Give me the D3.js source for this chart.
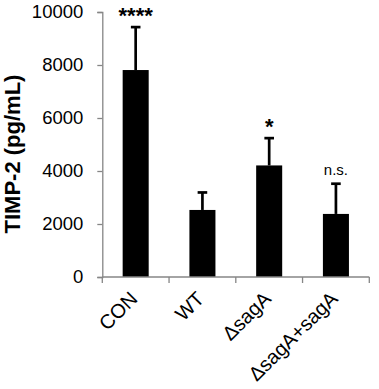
<!DOCTYPE html>
<html>
<head>
<meta charset="utf-8">
<script src="https://cdn.jsdelivr.net/npm/d3@7"></script>
<style>
  html, body { margin: 0; padding: 0; background: #fff; }
  svg { display: block; font-family: Arial, "Liberation Sans", sans-serif; }
</style>
</head>
<body>
<svg id="chart" width="379" height="389"></svg>
<script>
// ---- data ----
const categories = ["CON", "WT", "\u0394sagA", "\u0394sagA+sagA"];
const means = [7810, 2530, 4210, 2380];
const errors = [1620, 660, 1030, 1140];
const sigLabels = ["****", "", "*", "n.s."];
const yTicks = [0, 2000, 4000, 6000, 8000, 10000];
const yLabel = "TIMP-2 (pg/mL)";

// ---- layout ----
const svg = d3.select("#chart");
const plotLeft = 102.3, plotRight = 369.3, plotTop = 12, plotBottom = 277;
const axisColor = "#868686";

const y = d3.scaleLinear().domain([0, 10000]).range([plotBottom, plotTop]);
const x = d3.scaleBand().domain(categories).range([plotLeft, plotRight])
  .paddingInner(0.61).paddingOuter(0.305);
const step = x.step();

// y axis
const yAxis = svg.append("g").attr("transform", `translate(${plotLeft},0)`)
  .call(d3.axisLeft(y).tickValues(yTicks).tickSize(5).tickPadding(14).tickFormat(d3.format("d")));
yAxis.select(".domain").attr("stroke", axisColor).attr("stroke-width", 1.3);
yAxis.selectAll(".tick line").attr("stroke", axisColor).attr("stroke-width", 1.3);
yAxis.selectAll(".tick text").attr("font-size", 18.5).attr("fill", "#000")
  .attr("font-family", "Arial, 'Liberation Sans', sans-serif");

// y label
svg.append("text")
  .attr("transform", `translate(20,154) rotate(-90)`)
  .attr("text-anchor", "middle")
  .attr("font-size", 22).attr("font-weight", "bold")
  .text(yLabel);

// bars
svg.append("g").selectAll("rect").data(categories).join("rect")
  .attr("x", d => x(d)).attr("width", x.bandwidth())
  .attr("y", (d, i) => y(means[i]))
  .attr("height", (d, i) => y(0) - y(means[i]))
  .attr("fill", "#000");

// error bars (upper only)
const eb = svg.append("g").attr("stroke", "#000").attr("stroke-width", 2.7);
categories.forEach((c, i) => {
  const cx = x(c) + x.bandwidth() / 2;
  eb.append("line").attr("x1", cx).attr("x2", cx)
    .attr("y1", y(means[i])).attr("y2", y(means[i] + errors[i]));
  eb.append("line").attr("x1", cx - 4.8).attr("x2", cx + 4.8)
    .attr("y1", y(means[i] + errors[i])).attr("y2", y(means[i] + errors[i]));
});

// x axis
const xg = svg.append("g");
xg.append("line").attr("x1", plotLeft).attr("x2", plotRight)
  .attr("y1", plotBottom).attr("y2", plotBottom)
  .attr("stroke", axisColor).attr("stroke-width", 1.3);
const bounds = categories.map(c => x(c) + x.bandwidth() / 2 - step / 2)
  .concat([x(categories[categories.length - 1]) + x.bandwidth() / 2 + step / 2]);
xg.selectAll(".bt").data(bounds).join("line")
  .attr("x1", d => d).attr("x2", d => d)
  .attr("y1", plotBottom).attr("y2", plotBottom + 6)
  .attr("stroke", axisColor).attr("stroke-width", 1.3);
xg.selectAll(".xl").data(categories).join("text")
  .attr("transform", d => `translate(${x(d) + x.bandwidth() / 2 + 3},300) rotate(-45)`)
  .attr("text-anchor", "end")
  .attr("font-size", 20)
  .text(d => d);

// significance labels
svg.append("g").selectAll("text").data(categories).join("text")
  .attr("x", d => x(d) + x.bandwidth() / 2)
  .attr("y", (d, i) => {
    const t = y(means[i] + errors[i]);
    return sigLabels[i] === "n.s." ? t - 9 : t - 4.5;
  })
  .attr("text-anchor", "middle")
  .attr("font-size", (d, i) => sigLabels[i] === "n.s." ? 15 : 22)
  .attr("font-weight", (d, i) => sigLabels[i] === "n.s." ? "normal" : "bold")
  .text((d, i) => sigLabels[i]);
</script>
</body>
</html>
